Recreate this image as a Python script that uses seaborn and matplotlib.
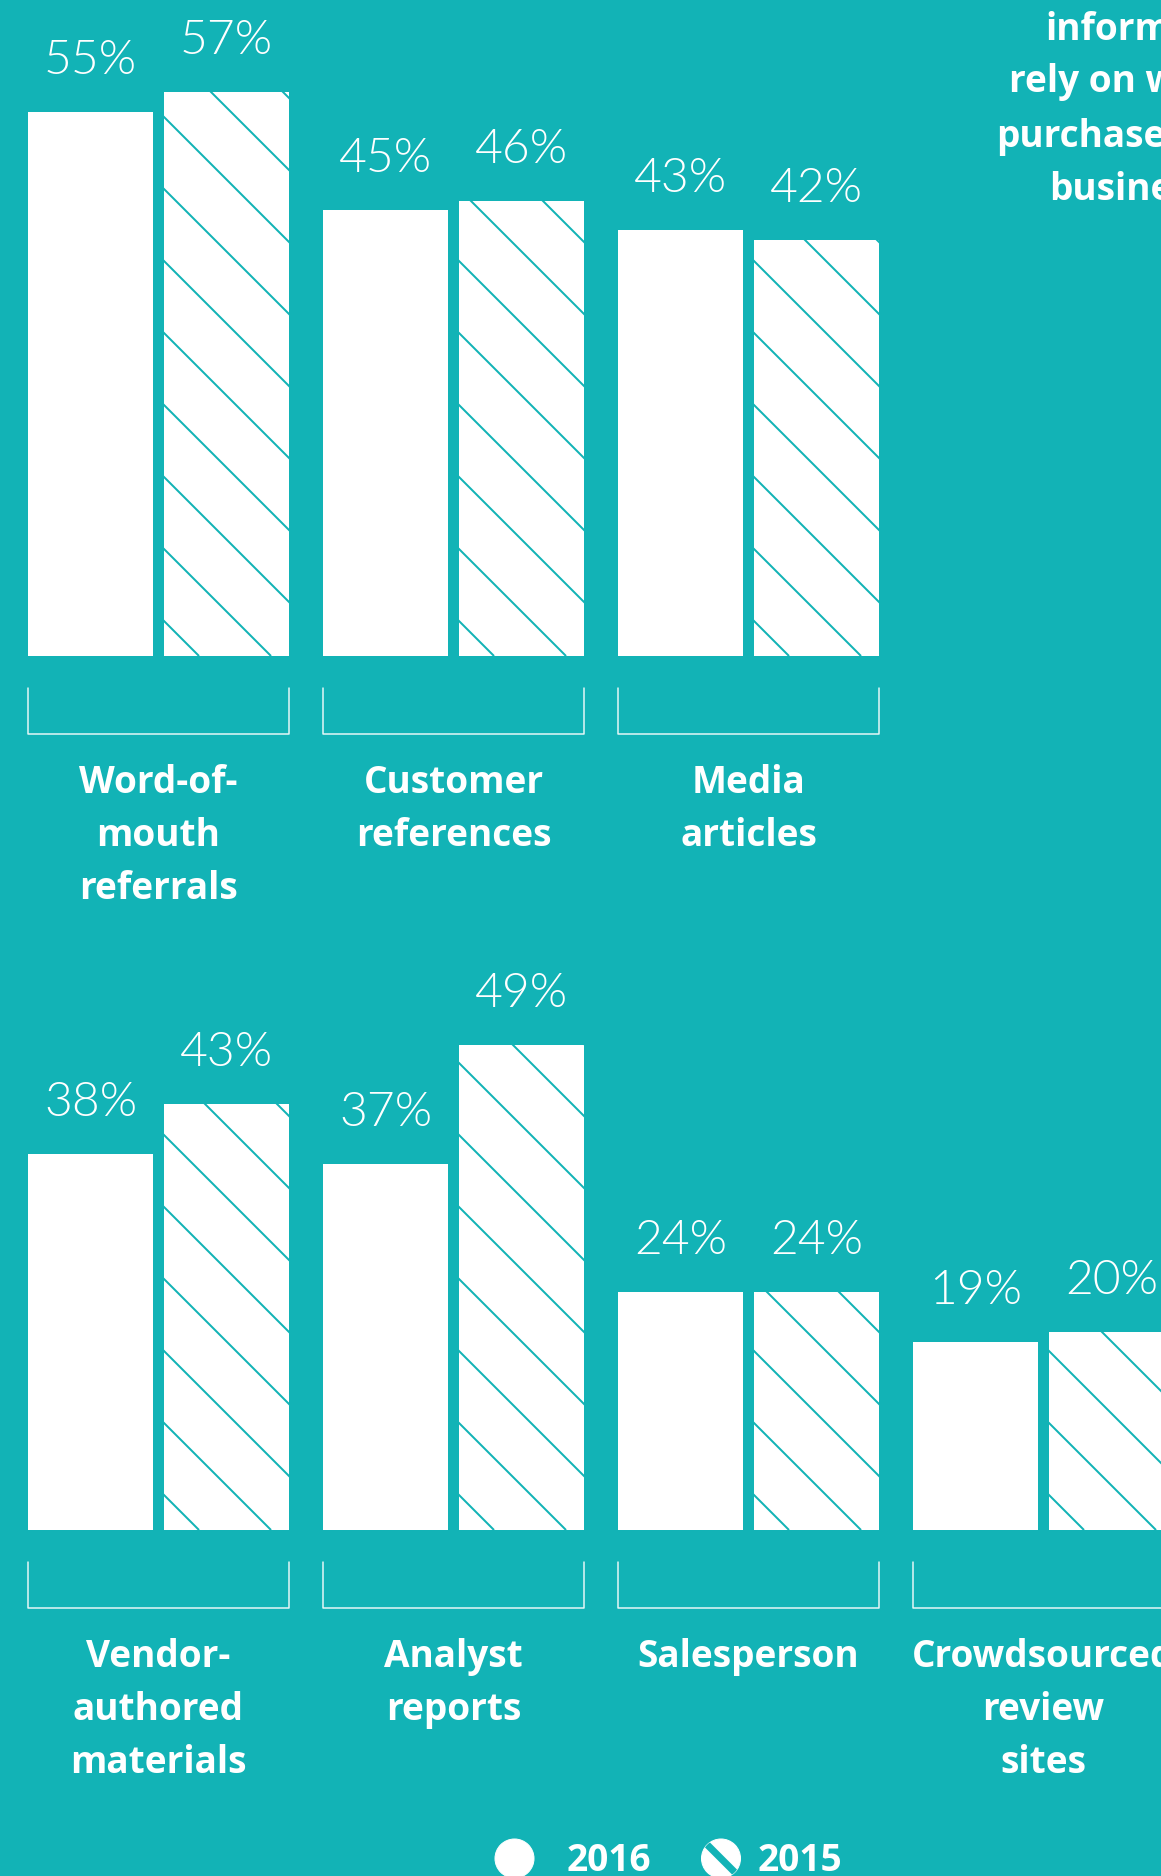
import matplotlib
matplotlib.use("Agg")
import matplotlib.pyplot as plt
from matplotlib.patches import Circle
from matplotlib.lines import Line2D
import seaborn as sns
import pandas as pd

TEAL = "#12b3b6"
W_PX, H_PX, DPI = 1161, 1876, 72

# ---- data ---------------------------------------------------------------
years = ["2016", "2015"]
cats_top = ["Word-of-\nmouth\nreferrals", "Customer\nreferences", "Media\narticles"]
top_2016 = [55, 45, 43]
top_2015 = [57, 46, 42]
cats_bot = ["Vendor-\nauthored\nmaterials", "Analyst\nreports", "Salesperson",
            "Crowdsourced\nreview\nsites"]
bot_2016 = [38, 37, 24, 19]
bot_2015 = [43, 49, 24, 20]
title_lines = ["inform", "rely on w", "purchase", "busine"]

sns.set_style("white")
plt.rcParams["font.family"] = ["Lato", "DejaVu Sans"]
BOLD = dict(family=["Open Sans", "DejaVu Sans"], fontweight="bold", fontsize=37)

PX_PER_PCT = 9.9
PITCH = 295.0
FIRST_CENTER = 158.5
XLIM = (-FIRST_CENTER / PITCH, (W_PX - FIRST_CENTER) / PITCH)
STRIPE_STEP = 72     # px between stripes, measured horizontally/vertically

fig = plt.figure(figsize=(W_PX / DPI, H_PX / DPI), dpi=DPI, facecolor=TEAL)


def stripes(ax, p):
    """white bar with teal 45deg stripes, clipped to the bar"""
    x0, w, h = p.get_x(), p.get_width(), p.get_height()
    sx = STRIPE_STEP / PITCH
    n = int((w + h * PX_PER_PCT / PITCH) / sx) + 2
    for k in range(n):
        xb = x0 + 35 / PITCH + k * sx
        L = 1000
        ln, = ax.plot([xb, xb - L / PITCH], [0, L / PX_PER_PCT],
                      color=TEAL, lw=2, solid_capstyle="butt")
        ln.set_clip_path(p)


def row(cats, v16, v15, base_px, top_px):
    df = pd.DataFrame({"cat": cats * 2,
                       "year": [years[0]] * len(cats) + [years[1]] * len(cats),
                       "pct": v16 + v15})
    ax = fig.add_axes([0, 1 - base_px / H_PX, 1, (base_px - top_px) / H_PX])
    ax.patch.set_alpha(0)
    sns.barplot(data=df, x="cat", y="pct", hue="year", order=cats,
                hue_order=years, palette={y: "white" for y in years},
                width=0.922, gap=0.081, saturation=1, legend=False, ax=ax)
    for cont in ax.containers:
        for p in cont:
            p.set_edgecolor("none"); p.set_linewidth(0)
    ax.set_xlim(*XLIM)
    ax.set_ylim(0, (base_px - top_px) / PX_PER_PCT)
    ax.set_axis_off()
    for p in ax.containers[1]:
        stripes(ax, p)
    # value labels
    for cont in ax.containers:
        for p in cont:
            ax.annotate(f"{p.get_height():.0f}%",
                        (p.get_x() + p.get_width() / 2, p.get_height()),
                        xytext=(0, 38), textcoords="offset points",
                        ha="center", va="baseline", color="white",
                        fontsize=48, fontweight=300)
    # brackets + category labels
    half = (ax.containers[1][0].get_x() + ax.containers[1][0].get_width()
            - ax.containers[0][0].get_x()) / 2
    for i, c in enumerate(cats):
        y1, y2 = -32 / PX_PER_PCT, -78 / PX_PER_PCT
        ax.plot([i - half, i - half, i + half, i + half], [y1, y2, y2, y1],
                color="white", lw=1.5, clip_on=False, alpha=0.9)
        for j, line in enumerate(c.split("\n")):
            ax.annotate(line, (i, 0), xytext=(0, -137 - 53 * j),
                        textcoords="offset points", ha="center",
                        va="baseline", color="white",
                        annotation_clip=False, **BOLD)
    return ax


row(cats_top, top_2016, top_2015, 656, 0)
row(cats_bot, bot_2016, bot_2015, 1530, 760)

# top-right title (cut off at the edge)
for (x, y), t in zip([(1045, 40), (1009, 92), (996, 147), (1049, 200)], title_lines):
    fig.text(x / W_PX, 1 - y / H_PX, t, color="white", ha="left",
             va="baseline", **BOLD)

# legend
tr = fig.dpi_scale_trans
r = 19.5 / DPI
cy = (H_PX - 1858.5) / DPI
c1 = Circle((514.5 / DPI, cy), r, transform=tr, color="white")
fig.add_artist(c1)
c2 = Circle((721 / DPI, cy), r, transform=tr, color="white")
fig.add_artist(c2)
stripe = Line2D([721 / DPI - r, 721 / DPI + r], [cy + r, cy - r],
                transform=tr, color=TEAL, lw=7)
fig.add_artist(stripe)
stripe.set_clip_path(c2)
for x, t in [(567, "2016"), (758, "2015")]:
    fig.text(x / W_PX, 1 - 1871 / H_PX, t, color="white", ha="left",
             va="baseline", **BOLD)

fig.savefig("out.png", dpi=DPI, facecolor=TEAL)
